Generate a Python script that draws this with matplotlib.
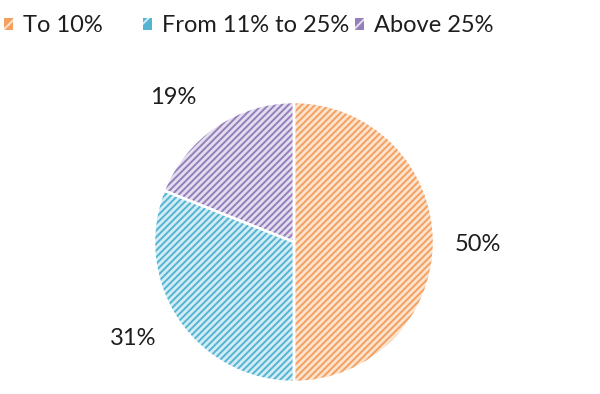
import matplotlib.pyplot as plt
from matplotlib.patches import Patch

# Datos del gráfico
categorias = ["To 10%", "From 11% to 25%", "Above 25%"]
valores = [50, 31, 19]
colores = ["#F4A060", "#55B4D2", "#9380BA"]
fondos = ["#FCE3CE", "#D3EDF6", "#E4DDEF"]

plt.rcParams['font.family'] = ['Lato', 'DejaVu Sans']
plt.rcParams['hatch.linewidth'] = 1.4

fig = plt.figure(figsize=(6, 3.94), dpi=100)
# centro en (294, 242) px, radio 140 px
ax = fig.add_axes([(294 - 140) / 600, (394 - 242 - 140) / 394, 280 / 600, 280 / 394])

wedges, textos, pcts = ax.pie(valores, startangle=90, counterclock=False,
                              colors=fondos, autopct='%d%%', pctdistance=1.32,
                              wedgeprops=dict(linewidth=0),
                              textprops=dict(fontsize=17, color="#1E1E1E"))
for w, c in zip(wedges, colores):
    w.set_hatch('/////')
    w.set_edgecolor(c)

# borde blanco entre porciones
ax.pie(valores, startangle=90, counterclock=False,
       wedgeprops=dict(fill=False, edgecolor="white", linewidth=1.8))
ax.set_xlim(-1, 1)
ax.set_ylim(-1, 1)

# ajuste fino de la posición de las etiquetas (como en Excel)
ajustes = [(-0.01, -0.02), (-0.06, 0.05), (-0.12, -0.06)]
for t, (dx, dy) in zip(pcts, ajustes):
    x, y = t.get_position()
    t.set_position((x + dx, y + dy))
    t.set_clip_on(False)

# Leyenda arriba, una entrada por posición
pos_x = [4, 143, 355]
for cat, f, c, px in zip(categorias, fondos, colores, pos_x):
    h = Patch(facecolor=c, edgecolor=f, hatch='//', linewidth=0)
    fig.legend([h], [cat], loc='center left', bbox_to_anchor=(px / 600, (394 - 26) / 394),
               frameon=False, fontsize=17, handlelength=0.36, handleheight=0.36,
               handletextpad=0.45, borderpad=0, borderaxespad=0, labelcolor="#1E1E1E")

fig.savefig("out.png", dpi=100)
